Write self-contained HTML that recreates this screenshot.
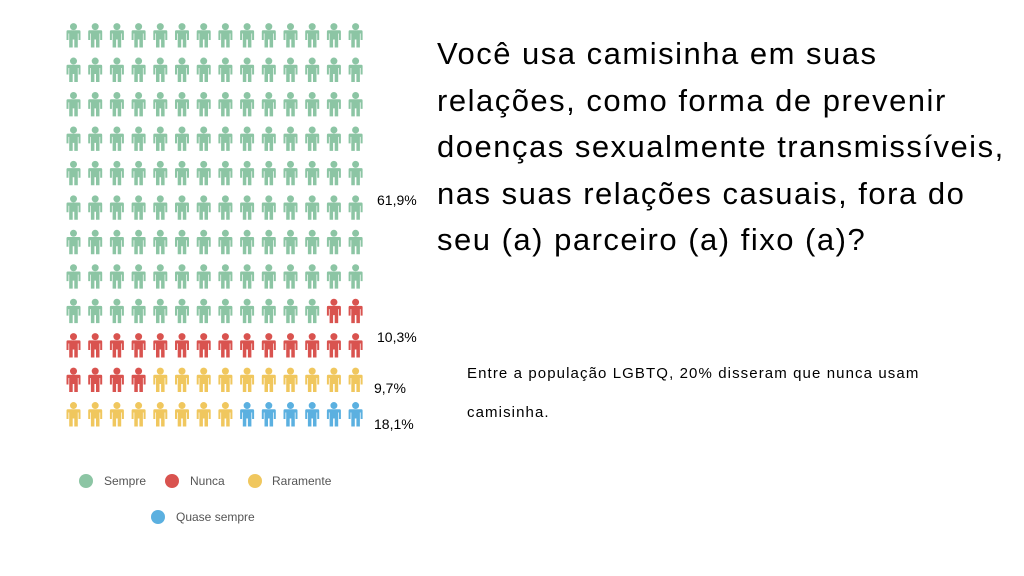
<!DOCTYPE html>
<html><head><meta charset="utf-8"><style>
body{margin:0;width:1024px;height:576px;background:#fff;position:relative;overflow:hidden;font-family:"Liberation Sans",sans-serif}
.t{position:absolute;white-space:nowrap;color:#000}
</style></head><body>
<svg width="1024" height="576" style="position:absolute;left:0;top:0">
<defs>
<g id="p">
<circle cx="0" cy="3.6" r="3.5"/>
<path d="M-7 8.5 Q-7 7.3 -5.8 7.3 H5.8 Q7 7.3 7 8.5 V17 H5 V10.5 H4.3 V24.5 H0.8 V16.5 H-0.8 V24.5 H-4.3 V10.5 H-5 V17 H-7 Z"/>
</g>
</defs>
<g id="grid"></g>
<g font-size="12" fill="#555">
<circle cx="86" cy="481" r="7" fill="#8cc5a4"/><text x="104" y="485">Sempre</text>
<circle cx="172" cy="481" r="7" fill="#d9534f"/><text x="190" y="485">Nunca</text>
<circle cx="255" cy="481" r="7" fill="#f0c75e"/><text x="272" y="485">Raramente</text>
<circle cx="158" cy="517" r="7" fill="#5bb0e0"/><text x="176" y="521">Quase sempre</text>
</g>
<g font-size="14" fill="#000">
<text x="377" y="205">61,9%</text>
<text x="377" y="342">10,3%</text>
<text x="374" y="393">9,7%</text>
<text x="374" y="429">18,1%</text>
</g>
</svg>
<div class="t" style="left:437px;top:31px;font-size:31px;letter-spacing:1.5px;line-height:46.5px">Você usa camisinha em suas<br>relações, como forma de prevenir<br>doenças sexualmente transmissíveis,<br>nas suas relações casuais, fora do<br>seu (a) parceiro (a) fixo (a)?</div>
<div class="t" style="left:467px;top:354px;font-size:15px;letter-spacing:1.1px;line-height:39px">Entre a população LGBTQ, 20% disseram que nunca usam<br>camisinha.</div>
<script>
var g=document.getElementById('grid'),s='';
var G='#8cc5a4',R='#d9534f',Y='#f0c75e',B='#5bb0e0';
for(var r=0;r<12;r++)for(var c=0;c<14;c++){
var col=G;
if(r==8&&c>=12)col=R;
if(r==9)col=R;
if(r==10)col=c<4?R:Y;
if(r==11)col=c<8?Y:B;
s+='<use href="#p" x="'+(73.5+21.7*c)+'" y="'+(23+34.45*r)+'" fill="'+col+'"/>';
}
g.innerHTML=s;
</script>
</body></html>
